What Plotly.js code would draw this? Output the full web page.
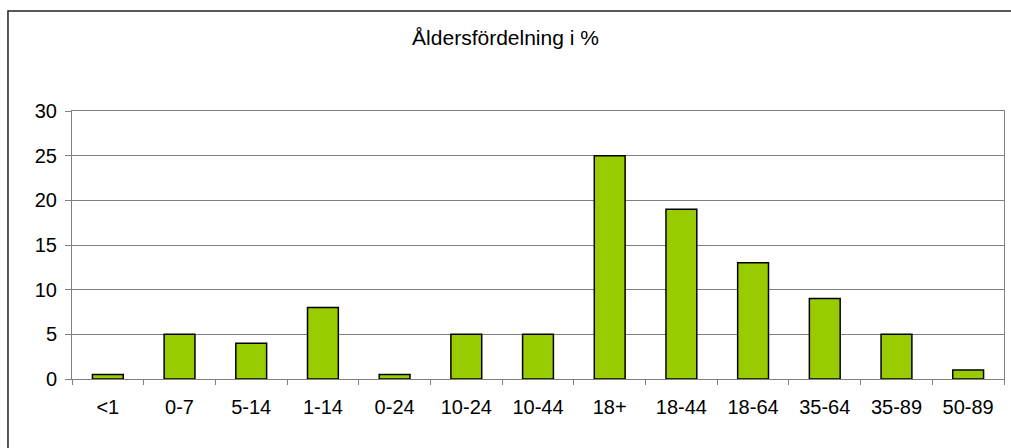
<!DOCTYPE html>
<html>
<head>
<meta charset="utf-8">
<script src="https://cdn.plot.ly/plotly-3.0.1.min.js"></script>
<style>
  html, body { margin: 0; padding: 0; background: #fff; }
  #chart { width: 1011px; height: 448px; }
</style>
</head>
<body>
<div id="chart"></div>
<script>
var ageGroups = ["<1", "0-7", "5-14", "1-14", "0-24", "10-24", "10-44", "18+", "18-44", "18-64", "35-64", "35-89", "50-89"];
var percent = [0.5, 5, 4, 8, 0.5, 5, 5, 25, 19, 13, 9, 5, 1];

var barColor = "#99cc00";
var gridColor = "#808080";
var textFont = { family: "Liberation Sans, Arial, sans-serif", size: 20, color: "#000000" };
var titleFont = { family: "Liberation Sans, Arial, sans-serif", size: 21, color: "#000000" };

var trace0 = {
    x: ageGroups,
    y: percent,
    type: "bar",
    marker: {
        color: barColor,
        line: { color: "#000000", width: 1.5 }
    },
    hoverinfo: "x+y"
};

var layout = {
    width: 1011,
    height: 448,
    margin: { l: 72, r: 7, t: 111, b: 69 },
    bargap: 0.57,
    showlegend: false,
    font: textFont,
    paper_bgcolor: "#ffffff",
    plot_bgcolor: "#ffffff",
    title: {
        text: "Åldersfördelning i %",
        font: titleFont,
        x: 0.5,
        xanchor: "center",
        y: 0.915,
        yanchor: "middle"
    },
    xaxis: {
        type: "category",
        showline: true,
        linecolor: gridColor,
        linewidth: 1,
        mirror: true,
        ticks: "outside",
        tickson: "boundaries",
        ticklen: 5,
        tickcolor: gridColor,
        showgrid: false,
        tickfont: textFont,
        ticklabelstandoff: 10
    },
    yaxis: {
        range: [0, 30],
        dtick: 5,
        showline: true,
        linecolor: gridColor,
        linewidth: 1,
        mirror: true,
        ticks: "outside",
        ticklen: 6,
        tickcolor: gridColor,
        gridcolor: gridColor,
        gridwidth: 1,
        zeroline: false,
        tickfont: textFont,
        ticklabelstandoff: 4
    },
    shapes: [
        {
            type: "rect",
            xref: "paper",
            yref: "paper",
            x0: -0.0687,
            x1: 1.05,
            y0: -0.5,
            y1: 1.373,
            line: { color: "#222222", width: 1.5 },
            fillcolor: "rgba(0,0,0,0)",
            layer: "below"
        }
    ]
};

Plotly.newPlot("chart", [trace0], layout, { displayModeBar: false, staticPlot: true });
</script>
</body>
</html>
